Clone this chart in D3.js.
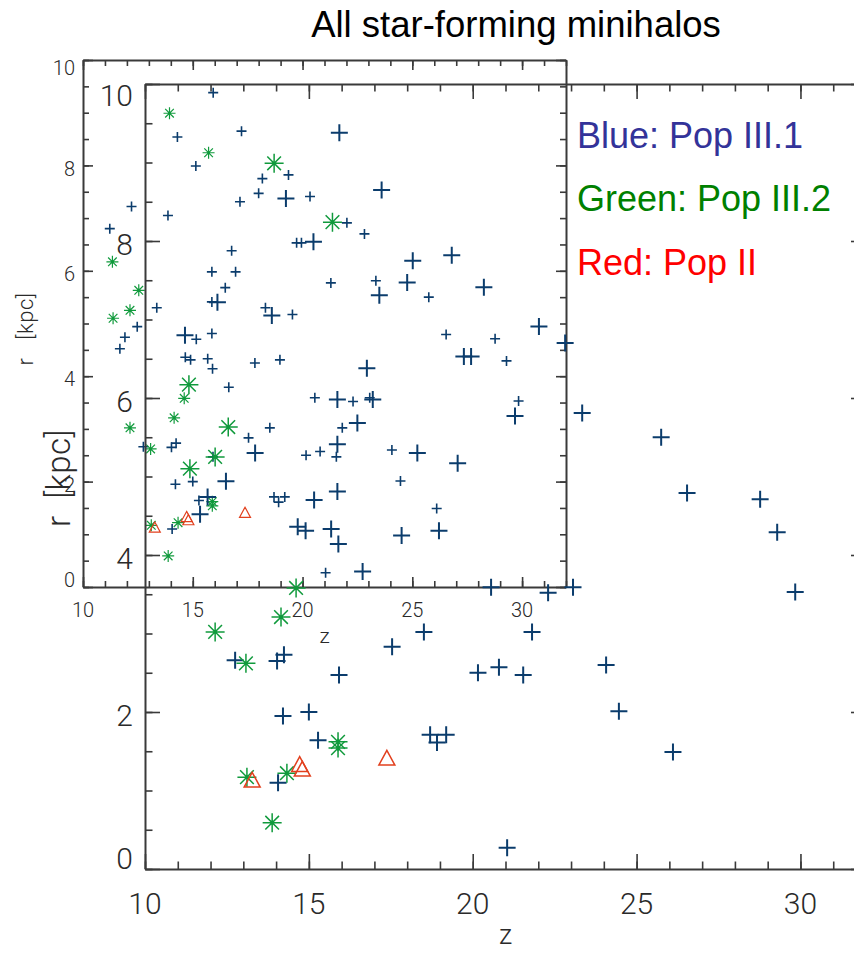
<!DOCTYPE html>
<html><head><meta charset="utf-8">
<script src="https://cdn.jsdelivr.net/npm/d3@7"></script>
<style>
html,body{margin:0;padding:0;background:#fff;}
svg{display:block;}
</style></head><body>
<svg id="chart" width="854" height="954"></svg>
<script>
// Redshift z and distance r [kpc] of the star-forming minihalos, by population
const pop31Z = [15.93,14.30,17.22,15.14,18.17,19.36,18.00,17.15,13.87,16.77,15.87,16.95,16.48,15.87,13.36,18.31,19.54,15.16,15.87,11.22,12.21,12.47,11.91,11.68,20.34,22.02,22.82,19.73,19.95,21.29,14.66,14.90,15.68,15.90,17.83,18.97,16.64,12.75,14.03,14.24,14.21,14.06,17.54,15.92,20.16,20.80,21.54,15.00,15.28,18.70,19.19,18.91,21.05,24.07,24.46,26.11,23.34,25.75,26.54,28.77,29.29,29.84,23.06,20.56,22.30,18.51,21.81];
const pop31R = [9.38,8.54,8.65,7.99,7.75,7.82,7.47,7.31,7.05,6.38,5.98,5.98,5.68,5.41,5.30,5.30,5.17,4.70,4.81,6.80,7.22,4.94,4.74,4.52,7.41,6.91,6.70,6.53,6.53,5.77,4.36,4.31,4.33,4.14,4.25,4.31,3.79,2.66,2.65,2.73,1.95,1.10,2.83,2.47,2.50,2.57,2.47,2.00,1.64,1.71,1.71,1.61,0.27,2.60,2.01,1.49,5.81,5.50,4.79,4.71,4.29,3.53,3.59,3.59,3.52,3.02,3.02];
const pop32Z = [13.94,15.72,11.34,11.37,12.14,12.54,13.08,12.14,13.11,14.33,13.88,15.89,15.89,14.61,14.15];
const pop32R = [8.99,8.24,6.17,5.10,5.25,5.63,2.62,3.02,1.17,1.22,0.59,1.62,1.54,3.58,3.21];
const pop2Z = [13.27,14.72,14.80,17.38];
const pop2R = [1.13,1.33,1.27,1.41];

const xTicks = [10,15,20,25,30];
const yTicks = [0,2,4,6,8,10];
const xMinorTicks = d3.range(10,33,1);
const yMinorTicks = d3.range(0,10.01,0.5);
const legendLabels = ["Blue: Pop III.1","Green: Pop III.2","Red: Pop II"];
const titleText = "All star-forming minihalos";
const xTitle = "z";
const yTitle = "r [kpc]";

const W = 854, H = 954;
const svg = d3.select("#chart");
svg.append("rect").attr("width",W).attr("height",H).attr("fill","#fff");

const axisColor = "#3a3a3a";
const labelFont = "Roboto, 'Liberation Sans', Arial, sans-serif";
const textFont = "'Liberation Sans', Arial, Helvetica, sans-serif";

const crossColor = "#0b3c6c", starColor = "#109a3c", triColor = "#e2401e";

// two views of the same sample: a large one and a small overlaid one
const panels = [
  {x0:83, x1:566, y0:587, y1:60, major:10, minor:6, font:20, capH:14.5,
   xLabBase:617, yLabRight:75, zFont:21, zBase:643, rFont:22, rX:33, rY:329, rGap:12,
   cross:5, star:6, tri:5.5, crossW:1.6, starW:1.2, triW:1.2},
  {x0:145, x1:866, y0:869, y1:84, major:15, minor:7.5, font:30, capH:21.5,
   xLabBase:914, yLabRight:133, zFont:27, zBase:944, rFont:33, rX:70, rY:478, rGap:8,
   cross:8.5, star:9.5, tri:8, crossW:2, starW:1.5, triW:1.5}
];

function crossPath(s){ return `M${-s},0H${s}M0,${-s}V${s}`; }
function starPath(s){ const d = s*0.72; return `M${-s},0H${s}M0,${-s}V${s}M${-d},${-d}L${d},${d}M${-d},${d}L${d},${-d}`; }
function triPath(s){ return `M0,${-s}L${s},${s*0.85}L${-s},${s*0.85}Z`; }

panels.forEach(p => {
  const x = d3.scaleLinear().domain([10,32]).range([p.x0,p.x1]);
  const y = d3.scaleLinear().domain([0,10]).range([p.y0,p.y1]);
  const g = svg.append("g");

  const axes = [
    {gen:d3.axisBottom, sc:x, t:`translate(0,${p.y0})`, maj:xTicks, min:xMinorTicks},
    {gen:d3.axisTop, sc:x, t:`translate(0,${p.y1})`, maj:xTicks, min:xMinorTicks},
    {gen:d3.axisLeft, sc:y, t:`translate(${p.x0},0)`, maj:yTicks, min:yMinorTicks},
    {gen:d3.axisRight, sc:y, t:`translate(${p.x1},0)`, maj:yTicks, min:yMinorTicks}
  ];
  axes.forEach(a => {
    const gm = g.append("g").attr("transform",a.t)
      .call(a.gen(a.sc).tickValues(a.min).tickSize(-p.minor).tickSizeOuter(0).tickFormat(""));
    gm.select(".domain").remove();
    const gM = g.append("g").attr("transform",a.t)
      .call(a.gen(a.sc).tickValues(a.maj).tickSize(-p.major).tickSizeOuter(0).tickFormat(""));
    [gm,gM].forEach(s => {
      s.selectAll("line").attr("stroke",axisColor).attr("stroke-width",1.6);
      s.selectAll(".domain").attr("stroke",axisColor).attr("stroke-width",2);
    });
  });

  // tick labels
  g.selectAll(null).data(xTicks).join("text")
    .attr("x",d=>x(d)).attr("y",p.xLabBase)
    .attr("text-anchor","middle").attr("font-family",labelFont).attr("font-weight",300)
    .attr("font-size",p.font).attr("fill","#2a2a2a").text(d=>d);
  g.selectAll(null).data(yTicks).join("text")
    .attr("x",p.yLabRight)
    .attr("y",d=>{
      const c = Math.max(p.y1 + p.capH/2, Math.min(p.y0 - p.capH/2, y(d)+3));
      return c + p.capH/2;
    })
    .attr("text-anchor","end").attr("font-family",labelFont).attr("font-weight",300)
    .attr("font-size",p.font).attr("fill","#2a2a2a").text(d=>d);

  // axis titles
  g.append("text").attr("x",(p.x0+p.x1)/2).attr("y",p.zBase)
    .attr("text-anchor","middle").attr("font-family",labelFont).attr("font-weight",300)
    .attr("font-size",p.zFont).attr("fill","#2a2a2a").text(xTitle);
  g.append("text").attr("transform",`translate(${p.rX},${p.rY}) rotate(-90)`)
    .attr("text-anchor","middle").attr("font-family",labelFont).attr("font-weight",300)
    .attr("font-size",p.rFont).attr("word-spacing",p.rGap).attr("letter-spacing",0.5)
    .attr("fill","#2a2a2a").text(yTitle);

  // markers
  g.selectAll(null).data(d3.zip(pop31Z,pop31R)).join("path")
    .attr("transform",d=>`translate(${x(d[0])},${y(d[1])})`)
    .attr("d",crossPath(p.cross)).attr("fill","none")
    .attr("stroke",crossColor).attr("stroke-width",p.crossW);
  g.selectAll(null).data(d3.zip(pop32Z,pop32R)).join("path")
    .attr("transform",d=>`translate(${x(d[0])},${y(d[1])})`)
    .attr("d",starPath(p.star)).attr("fill","none")
    .attr("stroke",starColor).attr("stroke-width",p.starW);
  g.selectAll(null).data(d3.zip(pop2Z,pop2R)).join("path")
    .attr("transform",d=>`translate(${x(d[0])},${y(d[1])})`)
    .attr("d",triPath(p.tri)).attr("fill","none")
    .attr("stroke",triColor).attr("stroke-width",p.triW);
});

// title and legend
svg.append("text").attr("x",516).attr("y",37).attr("text-anchor","middle")
  .attr("font-family",textFont).attr("font-size",36.5).attr("fill","#000").text(titleText);

const legendColors = ["#333399","#008000","#ff0000"];
const legendBase = [148,211,275];
svg.selectAll(null).data(legendLabels).join("text")
  .attr("x",577).attr("y",(d,i)=>legendBase[i])
  .attr("font-family",textFont).attr("font-size",36)
  .attr("fill",(d,i)=>legendColors[i]).text(d=>d);
</script>
</body></html>
